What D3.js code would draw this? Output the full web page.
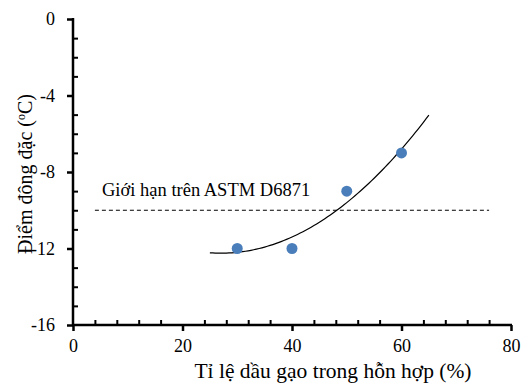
<!DOCTYPE html>
<html><head><meta charset="utf-8">
<script src="https://cdn.jsdelivr.net/npm/d3@7"></script>
</head><body style="margin:0">
<svg id="c" width="521" height="383"></svg>
<script>
const xValues = [30, 40, 50, 60];
const yValues = [-12, -12, -9, -7];
const xTicks = [0, 20, 40, 60, 80];
const yTicks = [0, -4, -8, -12, -16];
const limitValue = -10;
const limitRange = [4, 76];
const trendRange = [25, 65];
const limitLabel = "Giới hạn trên ASTM D6871";
const xTitle = "Tỉ lệ dầu gạo trong hỗn hợp (%)";

const FONT = "Liberation Serif";
const svg = d3.select("#c");
const x = d3.scaleLinear().domain([0, 80]).range([73, 511]);
const y = d3.scaleLinear().domain([-16, 0]).range([325, 19]);

function fitQuad(xs, ys) {
  const n = xs.length;
  let S = [0,0,0,0,0], T = [0,0,0];
  for (let i = 0; i < n; i++) {
    for (let k = 0; k < 5; k++) S[k] += Math.pow(xs[i], k);
    for (let k = 0; k < 3; k++) T[k] += ys[i] * Math.pow(xs[i], k);
  }
  const A = [[S[0],S[1],S[2],T[0]],[S[1],S[2],S[3],T[1]],[S[2],S[3],S[4],T[2]]];
  for (let i = 0; i < 3; i++) {
    for (let j = i+1; j < 3; j++) {
      const f = A[j][i] / A[i][i];
      for (let k = i; k < 4; k++) A[j][k] -= f * A[i][k];
    }
  }
  const c = [0,0,0];
  for (let i = 2; i >= 0; i--) {
    let s = A[i][3];
    for (let k = i+1; k < 3; k++) s -= A[i][k] * c[k];
    c[i] = s / A[i][i];
  }
  return c;
}
const coef = fitQuad(xValues, yValues);
const trend = d3.range(trendRange[0], trendRange[1] + 0.001, 0.5).map(v => [v, coef[0] + coef[1]*v + coef[2]*v*v]);

svg.append("path").datum(trend)
  .attr("d", d3.line().x(d => x(d[0])).y(d => y(d[1])))
  .attr("fill", "none").attr("stroke", "#000").attr("stroke-width", 1.2);

svg.append("line")
  .attr("x1", x(limitRange[0])).attr("x2", x(limitRange[1]))
  .attr("y1", y(limitValue)).attr("y2", y(limitValue))
  .attr("stroke", "#000").attr("stroke-width", 1).attr("stroke-dasharray", "4,3");

svg.append("text").attr("x", 102).attr("y", 196).attr("font-family", FONT).attr("font-size", 18.5).text(limitLabel);

svg.selectAll("circle").data(xValues).join("circle")
  .attr("cx", d => x(d)).attr("cy", (d, i) => y(yValues[i])).attr("r", 5.5)
  .attr("fill", "#4A7EBB");

const xAxisY = y(-16), yAxisX = x(0);
svg.append("g").attr("transform", `translate(0,${xAxisY})`)
  .call(d3.axisBottom(x).tickValues(d3.range(0, 81, 4).filter(v => v % 20 !== 0)).tickSize(-5).tickFormat(""))
  .call(a => a.select(".domain").remove())
  .selectAll("line").attr("stroke-width", 2);
svg.append("g").attr("transform", `translate(${yAxisX},0)`)
  .call(d3.axisLeft(y).tickValues(d3.range(-16, 1, 1).filter(v => v % 4 !== 0)).tickSize(-5).tickFormat(""))
  .call(a => a.select(".domain").remove())
  .selectAll("line").attr("stroke-width", 2);

const xa = svg.append("g").attr("transform", `translate(0,${xAxisY})`)
  .call(d3.axisBottom(x).tickValues(xTicks).tickFormat(d => String(d)).tickSize(6).tickSizeOuter(0).tickPadding(8));
const ya = svg.append("g").attr("transform", `translate(${yAxisX},0)`)
  .call(d3.axisLeft(y).tickValues(yTicks).tickFormat(d => String(d)).tickSize(6).tickSizeOuter(0).tickPadding(12));
[xa, ya].forEach(a => {
  a.attr("font-family", FONT).attr("font-size", 18);
  a.select(".domain").attr("stroke-width", 2.5);
  a.selectAll("line").attr("stroke-width", 2.5);
  a.selectAll("text").attr("fill", "#000");
});
ya.select(".domain").attr("d", `M0,${y(0)-1}V${y(-16)+1}`);
xa.select(".domain").attr("d", `M${x(0)-1},0H${x(80)+1}`);

svg.append("text").attr("x", 333).attr("y", 378).attr("text-anchor", "middle")
  .attr("font-family", FONT).attr("font-size", 21.5).text(xTitle);
const yt = svg.append("text").attr("transform", "translate(32,174) rotate(-90)").attr("text-anchor", "middle")
  .attr("font-family", FONT).attr("font-size", 20);
yt.append("tspan").text("Điểm đông đặc (");
yt.append("tspan").attr("font-size", 12).attr("dy", -7).text("o");
yt.append("tspan").attr("dy", 7).text("C)");
</script>
</body></html>
